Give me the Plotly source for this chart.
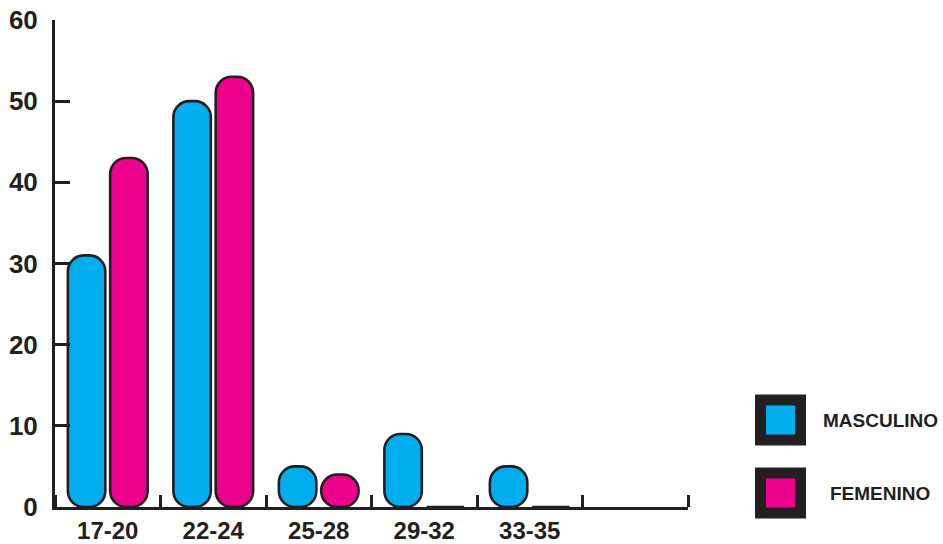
import plotly.graph_objects as go

# ---- data ----
categories = ["17-20", "22-24", "25-28", "29-32", "33-35"]
masculino = [31, 50, 5, 9, 5]
femenino = [43, 53, 4, 0, 0]
y_ticks = [0, 10, 20, 30, 40, 50, 60]
series_names = ["MASCULINO", "FEMENINO"]
n_slots = 6  # the axis keeps one extra empty slot on the right

# ---- style ----
DARK = "#231f20"
CYAN = "#00aeef"
MAGENTA = "#ec008c"
FONT = "Liberation Sans, Arial, sans-serif"

W, H = 943, 544
ML, MR, MT, MB = 55, 255, 20, 37
PW, PH = W - ML - MR, H - MT - MB

bar_w = 0.355
line_w = 2.6
radius = 16
offsets = [-0.378, 0.023]
colors = [CYAN, MAGENTA]
values = [masculino, femenino]

positions = list(range(len(categories)))
y_min, y_max = y_ticks[0], y_ticks[-1]

fig = go.Figure()
# empty trace so that the visible value axis is drawn
fig.add_trace(go.Scatter(x=[], y=[], showlegend=False, hoverinfo="skip"))
# Bars are drawn on a mirrored copy of the value axis (same pixels as y),
# growing from the baseline; this renders them as rounded "pill" bars.
for name, vals, off, col in zip(series_names, values, offsets, colors):
    fig.add_trace(go.Bar(
        name=name, x=positions, y=[-v for v in vals], base=[y_max] * len(vals),
        width=bar_w, offset=off, yaxis="y2",
        marker=dict(color=col, line=dict(color=DARK, width=line_w), cornerradius=radius),
        showlegend=False, hoverinfo="skip"))

boundaries = [i - 0.5 for i in range(n_slots + 1)]

fig.update_layout(
    width=W, height=H, autosize=False,
    margin=dict(l=ML, r=MR, t=MT, b=MB, pad=0),
    paper_bgcolor="white", plot_bgcolor="white",
    barmode="overlay",
    xaxis=dict(
        range=[-0.5, n_slots - 0.5], tickvals=positions, ticktext=categories,
        ticks="",
        showgrid=False, zeroline=False, automargin=False,
        showline=True, linecolor=DARK, linewidth=3,
        tickfont=dict(family=FONT, size=24, color=DARK, weight="bold"),
        minor=dict(tickvals=boundaries, ticks="inside", ticklen=12, tickwidth=3,
                   tickcolor=DARK, showgrid=False),
    ),
    yaxis=dict(
        range=[y_min, y_max], tickvals=y_ticks, automargin=False,
        ticks="inside", ticklen=15, tickwidth=3, tickcolor=DARK,
        showgrid=False, zeroline=False,
        showline=True, linecolor=DARK, linewidth=3,
        ticklabelstandoff=9,
        tickfont=dict(family=FONT, size=26, color=DARK, weight="bold"),
    ),
    yaxis2=dict(range=[y_max, y_min], overlaying="y", visible=False,
                showgrid=False, zeroline=False, automargin=False),
)


def px2paper_x(px):
    return (px - ML) / PW


def px2paper_y(py):
    return (MT + PH - py) / PH


legend_rows = [420, 493]
for name, col, cy in zip(series_names, colors, legend_rows):
    fig.add_shape(type="rect", xref="paper", yref="paper",
                  x0=px2paper_x(760.5), x1=px2paper_x(800.5),
                  y0=px2paper_y(cy - 20), y1=px2paper_y(cy + 20),
                  line=dict(color=DARK, width=11), fillcolor=col)
    fig.add_annotation(xref="paper", yref="paper", x=px2paper_x(880), y=px2paper_y(cy),
                       text=name, showarrow=False, xanchor="center", yanchor="middle",
                       font=dict(family=FONT, size=19, color=DARK, weight="bold"))

fig.write_html("out.html", config={"displayModeBar": False})
